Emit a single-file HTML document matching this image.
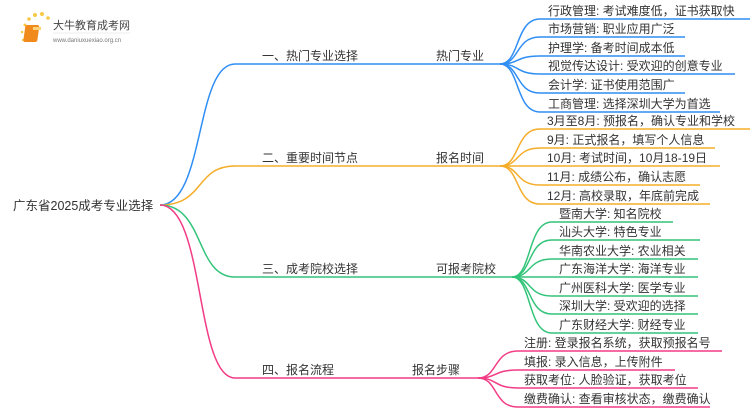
<!DOCTYPE html>
<html><head><meta charset="utf-8"><style>
html,body{margin:0;padding:0;background:#fff;}
svg text{font-family:"Liberation Sans","Noto Sans CJK SC",sans-serif;font-size:12px;fill:#333;}
</style></head><body>
<svg width="750" height="410" viewBox="0 0 750 410" xmlns="http://www.w3.org/2000/svg">
<!-- logo -->
<g>
<circle cx="25" cy="25" r="1.5" fill="#f7c948"/><circle cx="29" cy="19" r="1.8" fill="#f7c948"/><circle cx="35" cy="15" r="2" fill="#f7c948"/><circle cx="42" cy="14" r="2" fill="#f7c948"/><circle cx="48" cy="18" r="1.8" fill="#f7c948"/><circle cx="22" cy="32" r="1.3" fill="#f7c948"/><circle cx="23" cy="40" r="1.2" fill="#f7c948"/>
<rect x="29" y="25" width="14" height="17" rx="2" fill="#f08a1c" transform="skewX(-8)"/>
<rect x="33" y="27" width="8" height="3" fill="#ffd27a"/>
<text x="53" y="29" style="font-size:11px;fill:#444">大牛教育成考网</text>
<text x="53" y="42" style="font-size:6px;fill:#777">www.daniuxuexiao.org.cn</text>
<line x1="53" y1="33" x2="130" y2="33" stroke="#ddd" stroke-width="0.6"/>
</g>
<g fill="none" stroke-width="1.5">
<!-- root curves -->
<path d="M160 205 C205 205 195 64 235 64 L500 64" stroke="#2f8ef4"/>
<path d="M160 205 C205 205 195 166 235 166 L500 166" stroke="#f5ad2a"/>
<path d="M160 205 C205 205 195 277 235 277 L512 277" stroke="#33c47a"/>
<path d="M160 205 C205 205 195 378 235 378 L478 378" stroke="#f23c86"/>
<!-- blue leaves -->
<g stroke="#2f8ef4">
<path d="M500 64 C520 64 515 19 540 19 L750 19"/>
<path d="M500 64 C520 64 515 37 540 37 L685 37"/>
<path d="M500 64 C520 64 515 56 540 56 L685 56"/>
<path d="M500 64 C520 64 515 74 540 74 L735 74"/>
<path d="M500 64 C520 64 515 93 540 93 L685 93"/>
<path d="M500 64 C520 64 515 112 540 112 L720 112"/>
</g>
<g stroke="#f5ad2a">
<path d="M500 166 C520 166 515 129 540 129 L750 129"/>
<path d="M500 166 C520 166 515 148 540 148 L715 148"/>
<path d="M500 166 C520 166 515 166 540 166 L720 166"/>
<path d="M500 166 C520 166 515 185 540 185 L700 185"/>
<path d="M500 166 C520 166 515 204 540 204 L710 204"/>
</g>
<g stroke="#33c47a">
<path d="M512 277 C532 277 527 222 552 222 L673 222"/>
<path d="M512 277 C532 277 527 240 552 240 L700 240"/>
<path d="M512 277 C532 277 527 259 552 259 L698 259"/>
<path d="M512 277 C532 277 527 277 552 277 L698 277"/>
<path d="M512 277 C532 277 527 296 552 296 L698 296"/>
<path d="M512 277 C532 277 527 314 552 314 L698 314"/>
<path d="M512 277 C532 277 527 333 552 333 L698 333"/>
</g>
<g stroke="#f23c86">
<path d="M478 378 C498 378 493 351 518 351 L722 351"/>
<path d="M478 378 C498 378 493 370 518 370 L675 370"/>
<path d="M478 378 C498 378 493 388 518 388 L698 388"/>
<path d="M478 378 C498 378 493 407 518 407 L710 407"/>
</g>
</g>
<text x="13" y="210" style="font-size:12.5px">广东省2025成考专业选择</text>
<text x="262" y="60">一、热门专业选择</text><text x="436" y="60">热门专业</text>
<text x="262" y="162">二、重要时间节点</text><text x="436" y="162">报名时间</text>
<text x="262" y="273">三、成考院校选择</text><text x="436" y="273">可报考院校</text>
<text x="262" y="374">四、报名流程</text><text x="412" y="374">报名步骤</text>
<g>
<text x="548" y="15">行政管理: 考试难度低，证书获取快</text>
<text x="548" y="33">市场营销: 职业应用广泛</text>
<text x="548" y="52">护理学: 备考时间成本低</text>
<text x="548" y="70">视觉传达设计: 受欢迎的创意专业</text>
<text x="548" y="89">会计学: 证书使用范围广</text>
<text x="548" y="108">工商管理: 选择深圳大学为首选</text>
<text x="547" y="125">3月至8月: 预报名，确认专业和学校</text>
<text x="547" y="144">9月: 正式报名，填写个人信息</text>
<text x="547" y="162">10月: 考试时间，10月18-19日</text>
<text x="547" y="181">11月: 成绩公布，确认志愿</text>
<text x="547" y="200">12月: 高校录取，年底前完成</text>
<text x="559" y="218">暨南大学: 知名院校</text>
<text x="559" y="236">汕头大学: 特色专业</text>
<text x="559" y="255">华南农业大学: 农业相关</text>
<text x="559" y="273">广东海洋大学: 海洋专业</text>
<text x="559" y="292">广州医科大学: 医学专业</text>
<text x="559" y="310">深圳大学: 受欢迎的选择</text>
<text x="559" y="329">广东财经大学: 财经专业</text>
<text x="524" y="347">注册: 登录报名系统，获取预报名号</text>
<text x="524" y="366">填报: 录入信息，上传附件</text>
<text x="524" y="384">获取考位: 人脸验证，获取考位</text>
<text x="524" y="403">缴费确认: 查看审核状态，缴费确认</text>
</g>
</svg>
</body></html>
